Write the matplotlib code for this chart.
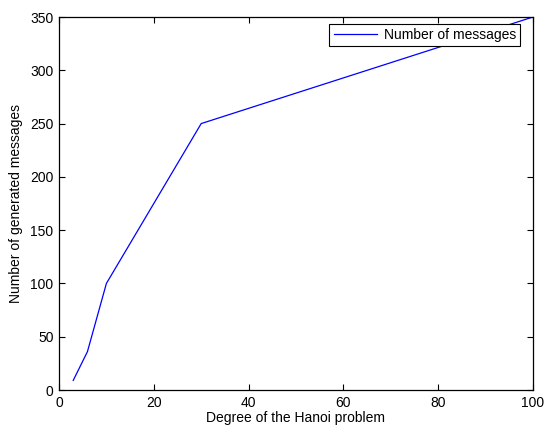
import matplotlib
matplotlib.use("Agg")
import matplotlib.pyplot as plt

degree = [3, 6, 10, 30, 100]
messages = [9, 36, 100, 250, 350]
xticks = [0, 20, 40, 60, 80, 100]
yticks = [0, 50, 100, 150, 200, 250, 300, 350]

plt.rcParams['font.family'] = ['Liberation Sans', 'DejaVu Sans']
fig = plt.figure(figsize=(5.44, 4.28), dpi=100)
ax = fig.add_axes([59/544, 38/428, 474/544, 373/428])
ax.plot(degree, messages, color='#0000ff', linewidth=0.9, label='Number of messages')
ax.set_xlim(0, 100)
ax.set_ylim(0, 350)
ax.set_xticks(xticks)
ax.set_yticks(yticks)
ax.tick_params(direction='in', top=True, right=True, labelsize=10, length=4, width=0.8, pad=4)
for s in ax.spines.values():
    s.set_linewidth(0.9)
ax.set_xlabel('Degree of the Hanoi problem', fontsize=10, labelpad=1)
ax.set_ylabel('Number of generated messages', fontsize=10, labelpad=5)
leg = ax.legend(loc='upper right', bbox_to_anchor=(0.9726, 0.981), fontsize=10,
                fancybox=False, framealpha=1, edgecolor='black', borderaxespad=0,
                handlelength=3.1, borderpad=0.3, handletextpad=0.5)
leg.get_frame().set_linewidth(0.8)
fig.savefig('out.png', dpi=100)
